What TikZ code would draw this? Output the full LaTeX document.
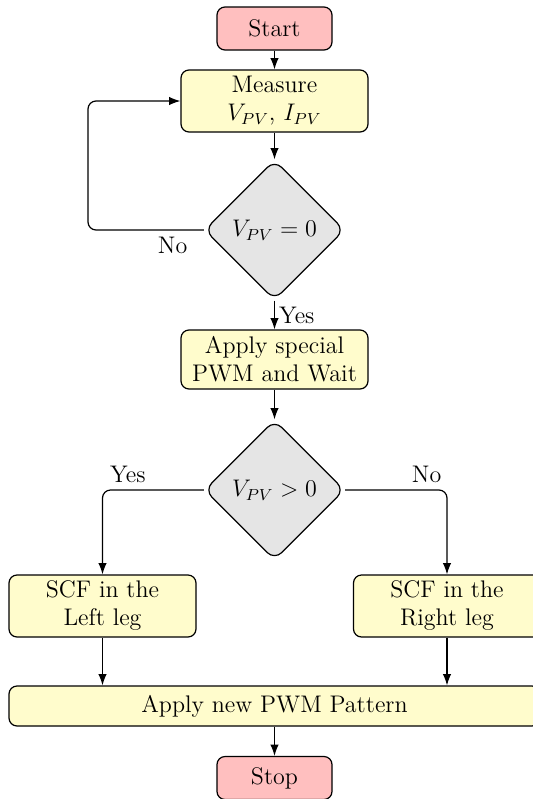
\documentclass[tikz,border=0pt]{standalone}
\usepackage{amsmath}
\usepackage{tikz}
\usetikzlibrary{arrows.meta, positioning, shapes.geometric}

\begin{document}
\begin{tikzpicture}[x=0.5pt, y=-0.5pt, font=\large, semithick,
    term/.style={rectangle, draw, rounded corners=4pt, fill=red!25, minimum width=57.5pt, minimum height=21.5pt},
    proc/.style={rectangle, draw, rounded corners=4pt, fill=yellow!20, align=center, minimum width=93.5pt, minimum height=31pt, inner sep=1pt},
    decision/.style={diamond, draw, rounded corners=5pt, fill=gray!20, minimum width=70pt, minimum height=70pt, inner sep=0pt},
    flow/.style={-Latex, rounded corners=4pt}]
  \useasboundingbox (0,0) rectangle (532,799);
  % boxes
  \node[term] (start) at (274.5,28.5) {Start};
  \node[proc] (measure) at (274.5,101) {Measure\\$V_{PV}$, $I_{PV}$};
  \node[decision] (zero) at (274.5,230) {$V_{PV}=0$};
  \node[proc, minimum height=29.5pt] (special) at (274.5,359.5) {Apply special\\PWM and Wait};
  \node[decision] (sign) at (274.5,490) {$V_{PV}>0$};
  \node[proc] (left) at (102.5,606) {SCF in the\\Left leg};
  \node[proc] (right) at (447,606) {SCF in the\\Right leg};
  \node[proc, minimum width=265.5pt, minimum height=20pt] (apply) at (274.5,706) {Apply new PWM Pattern};
  \node[term] (stop) at (274.5,778) {Stop};
  \coordinate (back) at (88,230);
  % arrows
  \draw[flow] (start) -- (measure);
  \draw[flow] (measure) -- (zero);
  \draw[flow] (zero.west) -- node[pos=0.27, below] {No} (back) |- (measure.west);
  \draw[flow] (zero) -- node[right, inner sep=2pt] {Yes} (special);
  \draw[flow] (special) -- (sign);
  \draw[flow] (sign.west) -| node[pos=0.375, above] {Yes} (left);
  \draw[flow] (sign.east) -| node[pos=0.4, above] {No} (right);
  \draw[flow] (left.south) -- (left.south |- apply.north);
  \draw[flow] (right.south) -- (right.south |- apply.north);
  \draw[flow] (apply) -- (stop);
\end{tikzpicture}
\end{document}
